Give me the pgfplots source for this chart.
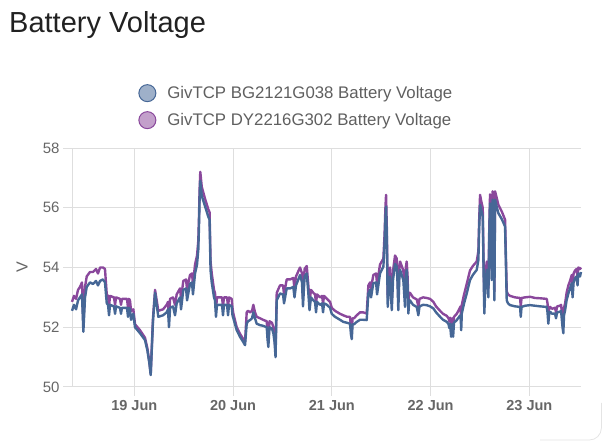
\documentclass[border=0pt]{standalone}
\usepackage{fontspec}
\setmainfont{Liberation Sans}
\usepackage{pgfplots}
\usepackage{pgfplotstable}
\pgfplotsset{compat=1.18}
\definecolor{cblue}{RGB}{70,103,150}
\definecolor{cpurp}{RGB}{138,72,156}
\definecolor{cbluel}{RGB}{158,176,201}
\definecolor{cpurpl}{RGB}{195,160,203}
\definecolor{gridc}{RGB}{222,222,222}
\definecolor{tickc}{RGB}{102,102,102}
\definecolor{legc}{RGB}{95,95,95}
\definecolor{titc}{RGB}{33,33,33}
\pgfplotstableread{
t b p
-0.631 52.55 52.85
-0.611 52.75 53.05
-0.590 52.6 52.95
-0.570 52.9 53.25
-0.550 53.0 53.35
-0.530 53.1 53.5
-0.516 51.85 52.1
-0.499 53.0 53.35
-0.482 53.35 53.7
-0.449 53.5 53.85
-0.418 53.45 53.85
-0.388 53.55 53.95
-0.368 53.4 53.8
-0.347 53.55 54.0
-0.317 53.6 54.0
-0.297 53.5 53.95
-0.279 52.8 53.1
-0.266 52.75 53.05
-0.256 52.4 52.7
-0.246 52.75 53.05
-0.206 52.7 53.0
-0.195 52.45 52.75
-0.185 52.7 53.0
-0.145 52.65 52.95
-0.135 52.45 52.75
-0.125 52.65 52.95
-0.074 52.65 52.95
-0.064 52.35 52.65
-0.054 52.65 52.95
-0.044 52.6 52.9
-0.033 52.25 52.55
-0.010 52.45 52.6
0.007 52.0 52.1
0.058 51.8 51.9
0.108 51.57 51.65
0.132 51.23 51.3
0.152 50.8 50.85
0.166 50.4 50.45
0.189 52.2 52.3
0.210 53.15 53.25
0.243 52.35 52.55
0.291 52.4 52.6
0.328 52.5 52.75
0.341 52.6 52.85
0.351 52.0 52.3
0.362 52.65 52.95
0.392 52.7 53.0
0.412 52.4 52.75
0.429 52.8 53.1
0.463 53.0 53.3
0.473 52.6 52.95
0.496 53.25 53.55
0.524 53.3 53.6
0.534 52.9 53.25
0.564 53.45 53.75
0.584 53.5 53.8
0.594 53.1 53.45
0.615 53.8 54.1
0.635 54.1 54.4
0.648 54.6 54.9
0.655 55.4 55.7
0.661 56.3 56.6
0.668 56.9 57.2
0.683 56.4 56.7
0.716 56.05 56.3
0.749 55.7 55.95
0.762 55.6 55.85
0.772 53.9 54.2
0.784 53.5 53.8
0.807 53.0 53.25
0.817 52.9 53.15
0.827 52.35 52.6
0.837 52.75 53.0
0.888 52.75 53.0
0.898 52.4 52.7
0.908 52.75 53.0
0.939 52.75 53.0
0.949 52.4 52.7
0.959 52.75 53.0
0.986 52.7 52.95
0.994 52.4 52.65
1.003 52.3 52.45
1.037 51.9 52.0
1.070 51.68 51.78
1.104 51.5 51.6
1.121 51.4 51.5
1.138 52.12 52.5
1.151 52.2 52.55
1.172 52.24 52.5
1.192 52.3 52.55
1.205 52.5 52.75
1.222 52.3 52.5
1.239 52.12 52.35
1.273 52.07 52.3
1.303 52.05 52.25
1.341 52.0 52.2
1.349 51.6 51.8
1.357 51.34 51.5
1.369 52.0 52.2
1.394 51.95 52.15
1.408 51.8 52.0
1.420 51.5 51.7
1.430 51.0 51.2
1.442 52.9 53.15
1.475 53.13 53.4
1.506 53.1 53.4
1.516 52.8 53.1
1.543 53.3 53.6
1.577 53.3 53.6
1.610 53.35 53.65
1.622 53.0 53.3
1.637 53.4 53.7
1.678 53.75 54.0
1.698 53.5 53.8
1.708 52.7 53.0
1.724 53.7 53.95
1.746 53.8 54.05
1.762 53.15 53.4
1.774 52.57 52.85
1.789 53.0 53.25
1.813 52.9 53.15
1.830 52.85 53.1
1.840 52.5 52.8
1.850 52.85 53.1
1.880 52.75 53.0
1.901 52.8 53.05
1.911 52.5 52.8
1.921 52.8 53.05
1.951 52.75 52.95
1.982 52.65 52.85
1.999 52.45 52.65
2.032 52.35 52.55
2.083 52.25 52.45
2.116 52.18 52.4
2.154 52.15 52.35
2.184 52.12 52.35
2.194 51.75 52.0
2.202 51.6 51.9
2.210 52.1 52.3
2.225 52.1 52.3
2.252 52.18 52.4
2.286 52.25 52.5
2.316 52.25 52.5
2.353 52.24 52.46
2.370 53.13 53.4
2.387 53.25 53.5
2.397 53.0 53.3
2.420 53.47 53.75
2.448 53.5 53.8
2.458 53.1 53.45
2.488 53.8 54.1
2.522 54.03 54.3
2.534 54.8 55.1
2.542 55.6 55.95
2.549 56.04 56.43
2.557 55.0 55.3
2.566 52.68 53.0
2.579 53.5 53.8
2.589 53.7 54.0
2.607 52.57 52.9
2.620 53.6 53.9
2.640 54.12 54.4
2.657 54.03 54.3
2.665 53.5 53.8
2.673 52.57 52.9
2.683 53.6 53.9
2.691 53.92 54.2
2.724 53.58 53.9
2.741 52.68 53.0
2.749 53.7 54.0
2.758 53.92 54.2
2.767 53.4 53.7
2.775 52.46 52.8
2.784 52.9 53.15
2.792 52.9 53.15
2.822 52.75 53.0
2.860 52.68 52.93
2.876 52.4 52.7
2.888 52.7 52.95
2.924 52.75 53.0
2.961 52.74 52.98
2.994 52.7 52.95
3.028 52.63 52.85
3.055 52.5 52.7
3.096 52.35 52.55
3.126 52.25 52.45
3.164 52.18 52.38
3.182 52.1 52.3
3.190 51.97 52.2
3.197 52.12 52.32
3.208 51.68 52.0
3.218 52.1 52.3
3.228 51.68 52.0
3.237 52.15 52.35
3.265 52.24 52.45
3.289 52.35 52.6
3.304 52.4 52.7
3.310 51.9 52.2
3.316 52.46 52.75
3.339 52.8 53.1
3.366 53.13 53.45
3.399 53.58 53.9
3.428 53.75 54.05
3.467 53.92 54.2
3.484 54.25 54.55
3.491 55.2 55.5
3.501 56.1 56.43
3.514 55.9 56.2
3.528 55.7 56.0
3.536 54.0 54.3
3.544 52.46 52.8
3.556 53.5 53.8
3.569 53.92 54.2
3.577 53.5 53.8
3.585 53.0 53.3
3.594 55.0 55.3
3.602 56.15 56.45
3.610 55.0 55.3
3.619 53.58 53.9
3.628 56.27 56.55
3.637 54.5 54.8
3.646 52.9 53.2
3.653 56.27 56.55
3.668 56.05 56.35
3.686 55.82 56.1
3.724 55.6 55.85
3.754 55.37 55.6
3.771 52.9 53.2
3.784 52.8 53.1
3.805 52.74 53.05
3.855 52.7 53.0
3.906 52.68 52.98
3.913 52.35 52.7
3.921 52.68 52.98
3.956 52.72 53.0
4.007 52.74 53.02
4.058 52.72 52.98
4.108 52.7 52.97
4.176 52.68 52.95
4.184 52.5 52.8
4.192 52.12 52.4
4.202 52.5 52.65
4.210 52.52 52.68
4.230 52.45 52.62
4.260 52.46 52.65
4.270 52.3 52.5
4.281 52.5 52.7
4.311 52.52 52.72
4.321 52.55 52.75
4.336 52.0 52.3
4.344 51.8 52.1
4.351 52.4 52.65
4.362 52.57 52.8
4.377 52.9 53.15
4.395 53.13 53.4
4.412 53.3 53.55
4.429 53.47 53.75
4.438 53.0 53.3
4.448 53.5 53.8
4.463 53.64 53.9
4.478 53.7 53.95
4.488 53.4 53.7
4.496 53.8 54.0
4.513 53.7 53.95
4.523 53.85 54.0
}\voltdata
\begin{document}
\begin{tikzpicture}[x=1pt,y=1pt]
\path[use as bounding box] (0,0) rectangle (602,443);
\draw[gridc!80!white, line width=0.8pt, rounded corners=12pt] (601.4,40) -- (601.4,3) -- (540,3);
\node[anchor=base west, inner sep=0pt, text=titc, font=\fontsize{29}{34}\selectfont] at (9,410) {Battery Voltage};
\begin{axis}[
  at={(72pt,56pt)}, anchor=south west,
  scale only axis, width=509pt, height=239pt,
  xmin=-0.631, xmax=4.523, ymin=50, ymax=58,
  axis x line*=bottom, axis y line*=left,
  axis line style={gridc, line width=1pt, -},
  xtick={0,1,2,3,4},
  xticklabels={19 Jun,20 Jun,21 Jun,22 Jun,23 Jun},
  ytick={50,52,54,56,58},
  grid=major, major grid style={gridc, line width=1pt},
  tick align=outside, major tick length=9pt,
  tick style={gridc, line width=1pt},
  /pgf/number format/assume math mode=true,
  xticklabel style={font=\fontsize{14.5}{16}\selectfont\bfseries, text=tickc, yshift=-1pt},
  yticklabel style={font=\fontsize{15}{17}\selectfont, text=tickc},
  ylabel={V},
  ylabel style={at={(axis description cs:-0.098,0.5)}, anchor=center, font=\fontsize{16}{18}\selectfont, text=tickc},
  legend cell align=left,
  legend style={at={(axis description cs:0.13,1.268)}, anchor=north west, draw=none, fill=none,
    font=\fontsize{16.8}{19}\selectfont, text=legc, row sep=9pt, inner sep=0pt,
    /tikz/every odd column/.append style={column sep=9pt}},
  clip=false,
]
\addplot[cpurp, line width=2.4pt, line join=round, forget plot] table[x=t, y=p] {\voltdata};
\addplot[cblue, line width=2.4pt, line join=round, forget plot] table[x=t, y=b] {\voltdata};
\addlegendimage{legend image code/.code={\draw[cblue, fill=cbluel, line width=1pt] (8pt,0pt) circle (8.5pt);}}
\addlegendentry{GivTCP BG2121G038 Battery Voltage}
\addlegendimage{legend image code/.code={\draw[cpurp, fill=cpurpl, line width=1pt] (8pt,0pt) circle (8.5pt);}}
\addlegendentry{GivTCP DY2216G302 Battery Voltage}
\end{axis}
\end{tikzpicture}
\end{document}
